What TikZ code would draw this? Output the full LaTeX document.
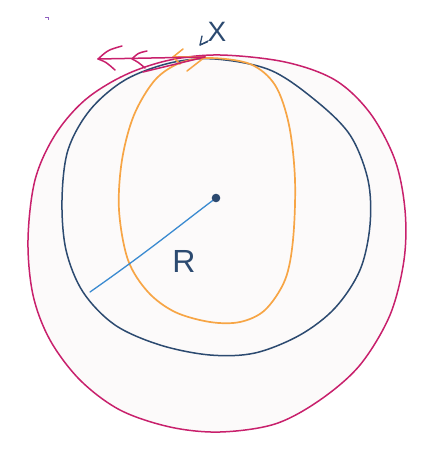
\documentclass[tikz,border=0pt]{standalone}
\usepackage{fontspec}
\setsansfont{Liberation Sans}
\usetikzlibrary{arrows.meta}
\definecolor{magenta}{HTML}{C8206C}
\definecolor{navy}{HTML}{2C4A70}
\definecolor{orng}{HTML}{F7A545}
\definecolor{bluel}{HTML}{3A8AD0}
\definecolor{blobfill}{HTML}{FCFAFA}
\definecolor{purp}{HTML}{9060C0}
\tikzset{
  pen/.style={line width=1.5pt, line cap=round, line join=round},
  lbl/.style={text=navy, font=\sffamily\fontsize{32}{32}\selectfont, inner sep=0pt},
}
\begin{document}
\begin{tikzpicture}[x=1pt,y=-1pt]
\useasboundingbox (0,0) rectangle (425,457);
% outer magenta blob
\draw[pen, magenta, fill=blobfill] plot[smooth cycle, tension=0.55] coordinates {
(220,55) (285,62) (335,80) (370,113) (395,160) (405,210) (404,260)
(390,315) (360,365) (320,400) (275,424) (220,432) (170,427) (120,410)
(80,380) (50,340) (33,295) (28,240) (35,180) (55,135) (85,100)
(125,75) (170,60)};
% navy circle
\draw[pen, navy] plot[smooth cycle, tension=0.55] coordinates {
(215,59) (270,70) (315,100) (350,135) (368,180) (370,225) (360,270)
(335,308) (300,335) (255,353) (210,355) (160,345) (115,325) (83,292)
(66,250) (62,200) (68,150) (90,110) (125,80) (170,63)};
% orange oval
\draw[pen, orng, line width=1.7pt] plot[smooth cycle, tension=0.55] coordinates {
(210,58) (250,64) (275,85) (289,125) (295,180) (293,240) (285,280)
(265,310) (240,322) (210,322) (175,312) (148,292) (128,260) (119,210)
(122,160) (134,115) (155,80) (180,63)};
% orange arrows at top
\draw[pen, orng] (183,49) -- (173,57) -- (180,64);
\draw[pen, orng] (173,57) -- (205,57);
\draw[pen, orng] (187,71) -- (205,57);
% magenta double arrow
\draw[pen, magenta] (205,57) -- (98,59);
\draw[pen, magenta] (122,46) .. controls (108,50) .. (98,59) .. controls (106,62) .. (115,70);
\draw[pen, magenta] (147,51) .. controls (138,53) .. (132,59) .. controls (138,62) .. (145,68);
\draw[pen, magenta] (143,72) -- (205,57);
% radius
\coordinate (ctr) at (216,198);
\coordinate (rend) at (90,292);
\draw[pen, bluel, line width=1.3pt] (rend) .. controls (150,250) and (180,225) .. (ctr);
\fill[navy] (ctr) circle (4.3);
% labels
\node[lbl] (R) at (184,261) {R};
\node[lbl, font=\sffamily\fontsize{28}{28}\selectfont] (X) at (217,32) {X};
\coordinate (xtip) at (200,45);
\draw[pen, navy, line width=1.3pt] (X.south west) -- (xtip);
\draw[pen, navy, line width=1.3pt] (202,36) -- (xtip) -- (208,41);
% tiny stray mark
\draw[purp, line width=0.6pt] (45,17) -- (48,17) -- (48,20);
\end{tikzpicture}
\end{document}
